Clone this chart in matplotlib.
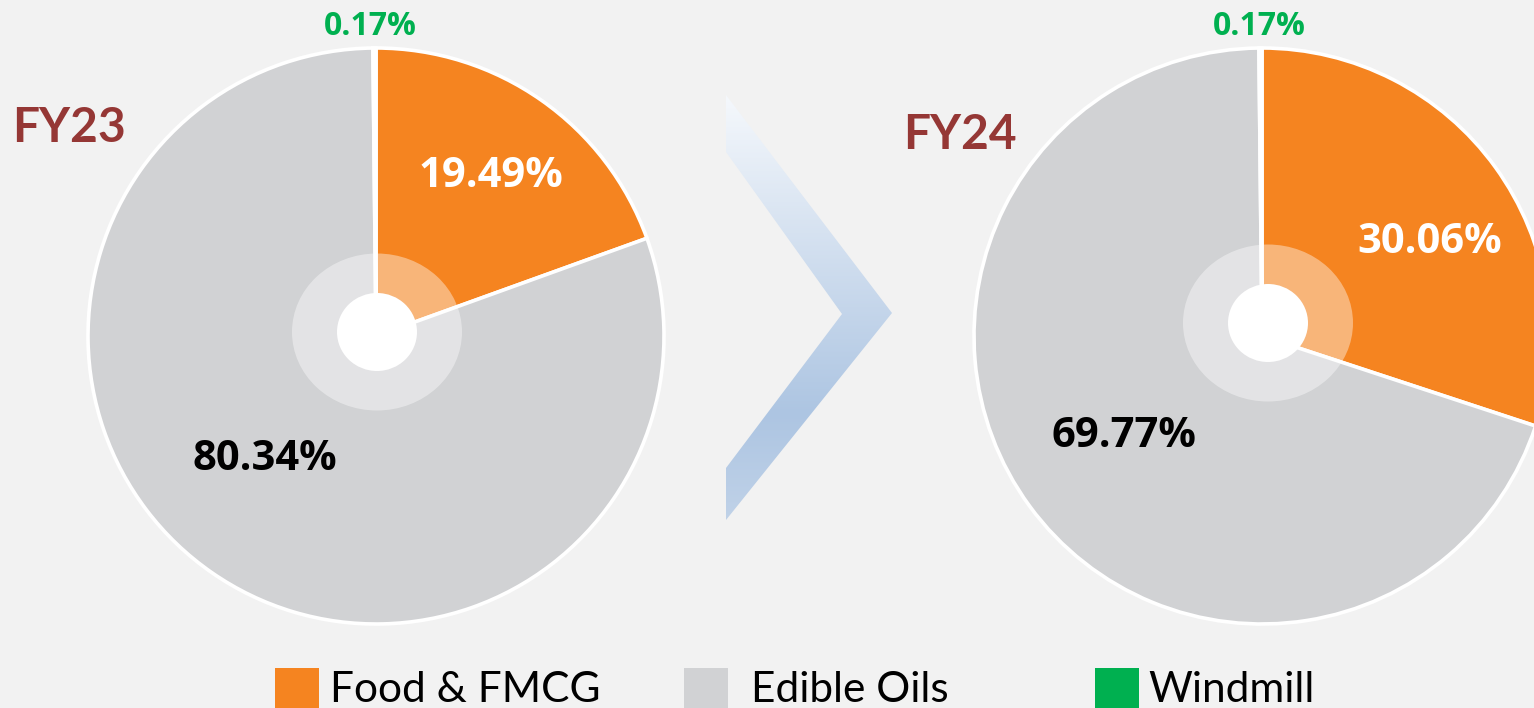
import matplotlib
matplotlib.use('Agg')
import numpy as np
import matplotlib.pyplot as plt
from matplotlib.patches import Ellipse, Polygon, Rectangle
from matplotlib.colors import LinearSegmentedColormap

# ------------------------------------
#   data
# ------------------------------------
segments = ['Food & FMCG', 'Edible Oils', 'Windmill']
fy23_share = [19.49, 80.34, 0.17]
fy24_share = [30.06, 69.77, 0.17]
years = ['FY23', 'FY24']
colors = ['#F58420', '#D1D2D4', '#00B050']

W, H = 1534, 708
BG = '#F2F2F2'


def Y(p):
    """pixel row -> data y (axis grows upwards)"""
    return H - p


fig = plt.figure(figsize=(W / 100, H / 100), dpi=100, facecolor=BG)
ax = fig.add_axes([0, 0, 1, 1])
ax.set_facecolor(BG)

# ------------------------------------
#   pies
# ------------------------------------
pies = [
    # share, pie centre, ring centre
    (fy23_share, (376, 336), (377, 332)),
    (fy24_share, (1262, 336), (1268, 323)),
]
for share, (cx, cy), (rx, ry) in pies:
    ax.pie(share, colors=colors, startangle=90, counterclock=False,
           center=(cx, Y(cy)), radius=288, frame=True,
           wedgeprops=dict(edgecolor='white', linewidth=2.6))
    ax.add_patch(Ellipse((rx, Y(ry)), 170, 157, facecolor='white',
                         alpha=0.4, edgecolor='none', zorder=3))
    ax.add_patch(Ellipse((rx, Y(ry)), 80, 78, facecolor='white',
                         edgecolor='none', zorder=4))

bold = dict(family='Open Sans', fontweight='bold', ha='center', va='baseline', zorder=5)
# FY23 labels
ax.text(491, Y(187), '%.2f%%' % fy23_share[0], color='white', fontsize=30, **bold)
ax.text(265, Y(470), '%.2f%%' % fy23_share[1], color='black', fontsize=30, **bold)
ax.text(370, Y(35), '%.2f%%' % fy23_share[2], color='#00B050', fontsize=23, **bold)
# FY24 labels
ax.text(1430, Y(253), '%.2f%%' % fy24_share[0], color='white', fontsize=30, **bold)
ax.text(1124, Y(447), '%.2f%%' % fy24_share[1], color='black', fontsize=30, **bold)
ax.text(1259, Y(35), '%.2f%%' % fy24_share[2], color='#00B050', fontsize=23, **bold)

ax.text(12, Y(142), years[0], color='#953735', fontsize=34.5, family='Lato',
        fontweight='bold', ha='left', va='baseline', zorder=5)
ax.text(903, Y(149), years[1], color='#953735', fontsize=34.5, family='Lato',
        fontweight='bold', ha='left', va='baseline', zorder=5)

# ------------------------------------
#   chevron arrow with gradient
# ------------------------------------
chev = [(726, 95), (892, 313), (726, 520), (726, 468), (842, 314), (726, 152)]
poly = Polygon([(x, Y(y)) for x, y in chev], closed=True, facecolor='none',
               edgecolor='none', zorder=2)
ax.add_patch(poly)
grad_cmap = LinearSegmentedColormap.from_list(
    'chev', [(0, '#F5F8FC'), (0.75, '#ADC5E2'), (1, '#C0D2E8')])
grad = np.linspace(0, 1, 256).reshape(-1, 1)
im = ax.imshow(grad, cmap=grad_cmap, aspect='auto', origin='upper',
               extent=[726, 892, Y(520), Y(95)], zorder=2)
im.set_clip_path(poly)

# ------------------------------------
#   legend
# ------------------------------------
leg_box_x = [275, 684, 1095]
leg_text_x = [330, 751, 1148]
for name, col, bx, tx in zip(segments, colors, leg_box_x, leg_text_x):
    ax.add_patch(Rectangle((bx, Y(712)), 44, 44, facecolor=col,
                           edgecolor='none', zorder=5))
    ax.text(tx, Y(702), name, fontsize=30.5, family='Lato', color='black',
            ha='left', va='baseline', zorder=5)

ax.set_xlim(0, W)
ax.set_ylim(0, H)
ax.set_aspect('auto')
ax.set_axis_off()

fig.savefig('out.png', dpi=100, facecolor=BG)
